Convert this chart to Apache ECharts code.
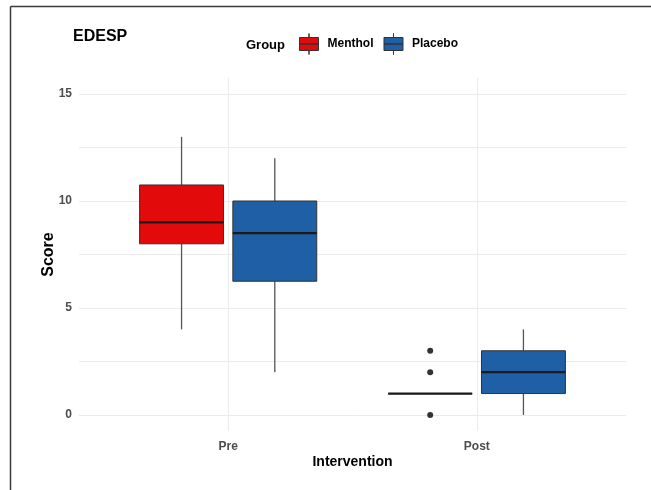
<!DOCTYPE html>
<html>
<head>
<meta charset="utf-8">
<script src="https://cdn.jsdelivr.net/npm/echarts@6/dist/echarts.min.js"></script>
<style>
html,body{margin:0;padding:0;background:#fff;}
#chart{width:651px;height:490px;}
</style>
</head>
<body>
<div id="chart"></div>
<script>
// ---- data ----
const categories = ['Pre', 'Post'];
const groups = ['Menthol', 'Placebo'];
// [min, Q1, median, Q3, max] per category
const mentholStats = [[4, 8, 9, 10.75, 13], [1, 1, 1, 1, 1]];
const placeboStats = [[2, 6.25, 8.5, 10, 12], [0, 1, 2, 3, 4]];
// outliers: [categoryIndex, value]
const mentholOutliers = [[1, 3], [1, 2], [1, 0]];
const placeboOutliers = [];
const yTicks = [0, 5, 10, 15];

// ---- layout / style constants ----
const DODGE = 0.1875;      // half of dodge width (0.75/2)
const BOX_W = 0.3375;      // box width in category units
const colors = { Menthol: '#E20A0A', Placebo: '#1F5FA6' };
const FONT = 'Liberation Sans, Arial, sans-serif';

function boxData(stats, sign) {
  return stats.map((s, i) => [i + 1 + sign * DODGE].concat(s));
}
function outlierData(list, sign) {
  return list.map(o => [o[0] + 1 + sign * DODGE, o[1]]);
}

function renderBox(params, api) {
  const x = api.value(0);
  const lo = api.value(1), q1 = api.value(2), med = api.value(3), q3 = api.value(4), hi = api.value(5);
  const half = api.size([BOX_W, 0])[0] / 2;
  const pLo = api.coord([x, lo]), pQ1 = api.coord([x, q1]), pMed = api.coord([x, med]);
  const pQ3 = api.coord([x, q3]), pHi = api.coord([x, hi]);
  const cx = pLo[0];
  const wStyle = { stroke: '#555555', lineWidth: 1.3 };
  return {
    type: 'group',
    children: [
      { type: 'line', shape: { x1: cx, y1: pHi[1], x2: cx, y2: pQ3[1] }, style: wStyle },
      { type: 'line', shape: { x1: cx, y1: pQ1[1], x2: cx, y2: pLo[1] }, style: wStyle },
      { type: 'rect', shape: { x: cx - half, y: pQ3[1], width: 2 * half, height: pQ1[1] - pQ3[1] },
        style: { fill: api.visual('color'), stroke: '#333333', lineWidth: 1 } },
      { type: 'line', shape: { x1: cx - half, y1: pMed[1], x2: cx + half, y2: pMed[1] },
        style: { stroke: '#1a1a1a', lineWidth: 2.2 } }
    ]
  };
}

const legendIcon = 'path://M0,4 L19,4 L19,10.5 L0,10.5 Z M0,10.5 L19,10.5 L19,17 L0,17 Z M9.5,0 L9.5,4 Z M9.5,17 L9.5,21 Z';

const chart = echarts.init(document.getElementById('chart'), null, { renderer: 'canvas' });
const option = {
  backgroundColor: '#ffffff',
  animation: false,
  textStyle: { fontFamily: FONT },
  title: [
    { text: 'EDESP', left: 68, top: 24, textStyle: { fontFamily: FONT, fontSize: 16, fontWeight: 'bold', color: '#000' } },
    { text: 'Group', left: 241, top: 34, textStyle: { fontFamily: FONT, fontSize: 13, fontWeight: 'bold', color: '#000' } }
  ],
  legend: {
    data: groups,
    left: 294, top: 28,
    icon: legendIcon,
    itemWidth: 19, itemHeight: 21,
    itemGap: 10,
    itemStyle: { borderColor: '#333333', borderWidth: 1 },
    textStyle: { fontFamily: FONT, fontSize: 12, fontWeight: 'bold', color: '#000', padding: [0, 0, 0, 4] }
  },
  grid: { left: 79, right: 25, top: 78, bottom: 59, containLabel: false },
  xAxis: {
    type: 'value', min: 0.4, max: 2.6, minInterval: 1, maxInterval: 1,
    name: 'Intervention', nameLocation: 'middle', nameGap: 24, nameMoveOverlap: false,
    nameTextStyle: { fontFamily: FONT, fontSize: 14, fontWeight: 'bold', color: '#000' },
    axisLine: { show: false }, axisTick: { show: false },
    axisLabel: {
      margin: 10, fontFamily: FONT, fontSize: 12, fontWeight: 'bold', color: '#4d4d4d',
      showMinLabel: false, showMaxLabel: false,
      formatter: v => { const i = Math.round(v) - 1; return (Math.abs(v - Math.round(v)) < 1e-6 && categories[i]) ? categories[i] : ''; }
    },
    splitLine: { show: true, showMinLine: false, showMaxLine: false, lineStyle: { color: '#ebebeb', width: 1 } }
  },
  yAxis: {
    type: 'value', min: -0.75, max: 15.75, minInterval: 2.5, maxInterval: 2.5,
    name: 'Score', nameLocation: 'middle', nameGap: 22, nameMoveOverlap: false,
    nameTextStyle: { fontFamily: FONT, fontSize: 16, fontWeight: 'bold', color: '#000' },
    axisLine: { show: false }, axisTick: { show: false },
    axisLabel: {
      margin: 7, fontFamily: FONT, fontSize: 12, fontWeight: 'bold', color: '#4d4d4d',
      showMinLabel: false, showMaxLabel: false,
      formatter: v => (yTicks.indexOf(v) >= 0 ? String(v) : '')
    },
    splitLine: { show: true, showMinLine: false, showMaxLine: false, lineStyle: { color: '#ebebeb', width: 1 } }
  },
  series: [
    {
      name: 'Menthol', type: 'custom', renderItem: renderBox,
      itemStyle: { color: colors.Menthol },
      encode: { x: 0, y: [1, 2, 3, 4, 5] },
      data: boxData(mentholStats, -1), z: 2
    },
    {
      name: 'Placebo', type: 'custom', renderItem: renderBox,
      itemStyle: { color: colors.Placebo },
      encode: { x: 0, y: [1, 2, 3, 4, 5] },
      data: boxData(placeboStats, 1), z: 2
    },
    {
      name: 'Menthol outliers', type: 'scatter', symbol: 'circle', symbolSize: 6,
      itemStyle: { color: '#000000' }, data: outlierData(mentholOutliers, -1), z: 3, clip: false
    },
    {
      name: 'Placebo outliers', type: 'scatter', symbol: 'circle', symbolSize: 6,
      itemStyle: { color: '#000000' }, data: outlierData(placeboOutliers, 1), z: 3, clip: false
    }
  ],
  graphic: [
    { type: 'line', shape: { x1: 10.5, y1: 6.5, x2: 651, y2: 6.5 }, style: { stroke: '#3a3a3a', lineWidth: 1.5 }, silent: true },
    { type: 'line', shape: { x1: 10.5, y1: 6.5, x2: 10.5, y2: 490 }, style: { stroke: '#3a3a3a', lineWidth: 1.5 }, silent: true }
  ]
};
chart.setOption(option);
</script>
</body>
</html>
